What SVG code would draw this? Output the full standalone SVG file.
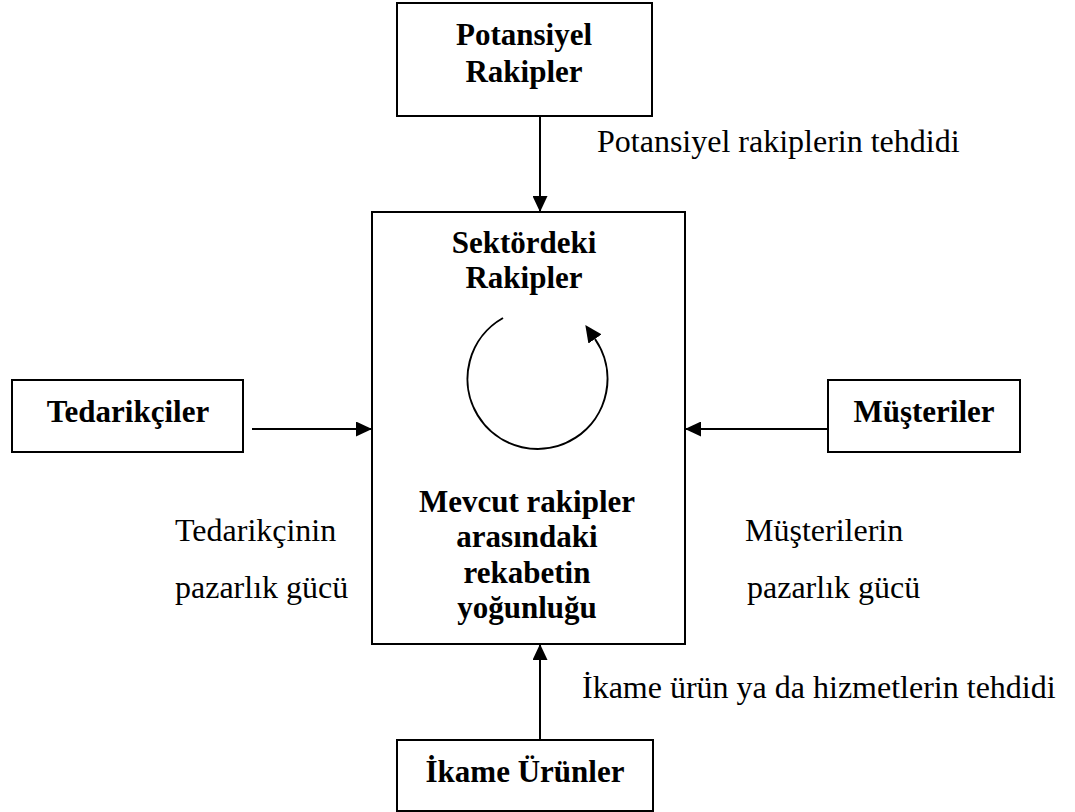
<svg xmlns="http://www.w3.org/2000/svg" width="1075" height="812" viewBox="0 0 1075 812">
  <style>
    .box { fill: #ffffff; stroke: #000000; stroke-width: 2; }
    .link { fill: none; stroke: #000000; stroke-width: 2; }
    .t { font-family: "Liberation Serif", "Times New Roman", serif; font-size: 32px; fill: #000000; }
    .b { font-size: 31px; font-weight: bold; text-anchor: middle; }
  </style>
  <defs>
    <!-- arrowhead whose tip sits on the line end -->
    <marker id="arrowTip" markerUnits="userSpaceOnUse" markerWidth="16" markerHeight="15" refX="16" refY="7.5" orient="auto">
      <path d="M0,0 L16,7.5 L0,15 Z" fill="#000000"/>
    </marker>
    <!-- arrowhead whose base sits on the line end -->
    <marker id="arrowBase" markerUnits="userSpaceOnUse" markerWidth="17" markerHeight="16" refX="0" refY="8" orient="auto">
      <path d="M0,0 L17,8 L0,16 Z" fill="#000000"/>
    </marker>
  </defs>

  <rect width="1075" height="812" fill="#ffffff"/>

  <g id="connectors">
    <line class="link" x1="540" y1="116" x2="540" y2="212" marker-end="url(#arrowTip)"/>
    <line class="link" x1="252" y1="429" x2="372" y2="429" marker-end="url(#arrowTip)"/>
    <line class="link" x1="828" y1="429" x2="685" y2="429" marker-end="url(#arrowTip)"/>
    <line class="link" x1="540" y1="740" x2="540" y2="644" marker-end="url(#arrowTip)"/>
  </g>

  <g id="potansiyel-rakipler">
    <rect class="box" x="397" y="3" width="255" height="113"/>
    <text class="t b" x="524" y="45">Potansiyel</text>
    <text class="t b" x="524" y="82">Rakipler</text>
  </g>

  <g id="sektordeki-rakipler">
    <rect class="box" x="372" y="212" width="313" height="432"/>
    <text class="t b" x="524" y="253">Sektördeki</text>
    <text class="t b" x="524" y="288">Rakipler</text>
    <path class="link" d="M503,318 A70,70 0 1 0 595,339" marker-end="url(#arrowBase)"/>
    <text class="t b" x="527" y="512">Mevcut rakipler</text>
    <text class="t b" x="527" y="547">arasındaki</text>
    <text class="t b" x="527" y="583">rekabetin</text>
    <text class="t b" x="527" y="618">yoğunluğu</text>
  </g>

  <g id="tedarikciler">
    <rect class="box" x="12" y="380" width="231" height="72"/>
    <text class="t b" x="128" y="422">Tedarikçiler</text>
  </g>

  <g id="musteriler">
    <rect class="box" x="828" y="380" width="192" height="72"/>
    <text class="t b" x="924" y="422">Müşteriler</text>
  </g>

  <g id="ikame-urunler">
    <rect class="box" x="397" y="740" width="256" height="71"/>
    <text class="t b" x="525" y="782">İkame Ürünler</text>
  </g>

  <g id="labels">
    <text class="t" x="597" y="152">Potansiyel rakiplerin tehdidi</text>
    <text class="t" x="175" y="541">Tedarikçinin</text>
    <text class="t" x="175" y="598">pazarlık gücü</text>
    <text class="t" x="745" y="541">Müşterilerin</text>
    <text class="t" x="747" y="598">pazarlık gücü</text>
    <text class="t" x="582" y="698">İkame ürün ya da hizmetlerin tehdidi</text>
  </g>
</svg>
